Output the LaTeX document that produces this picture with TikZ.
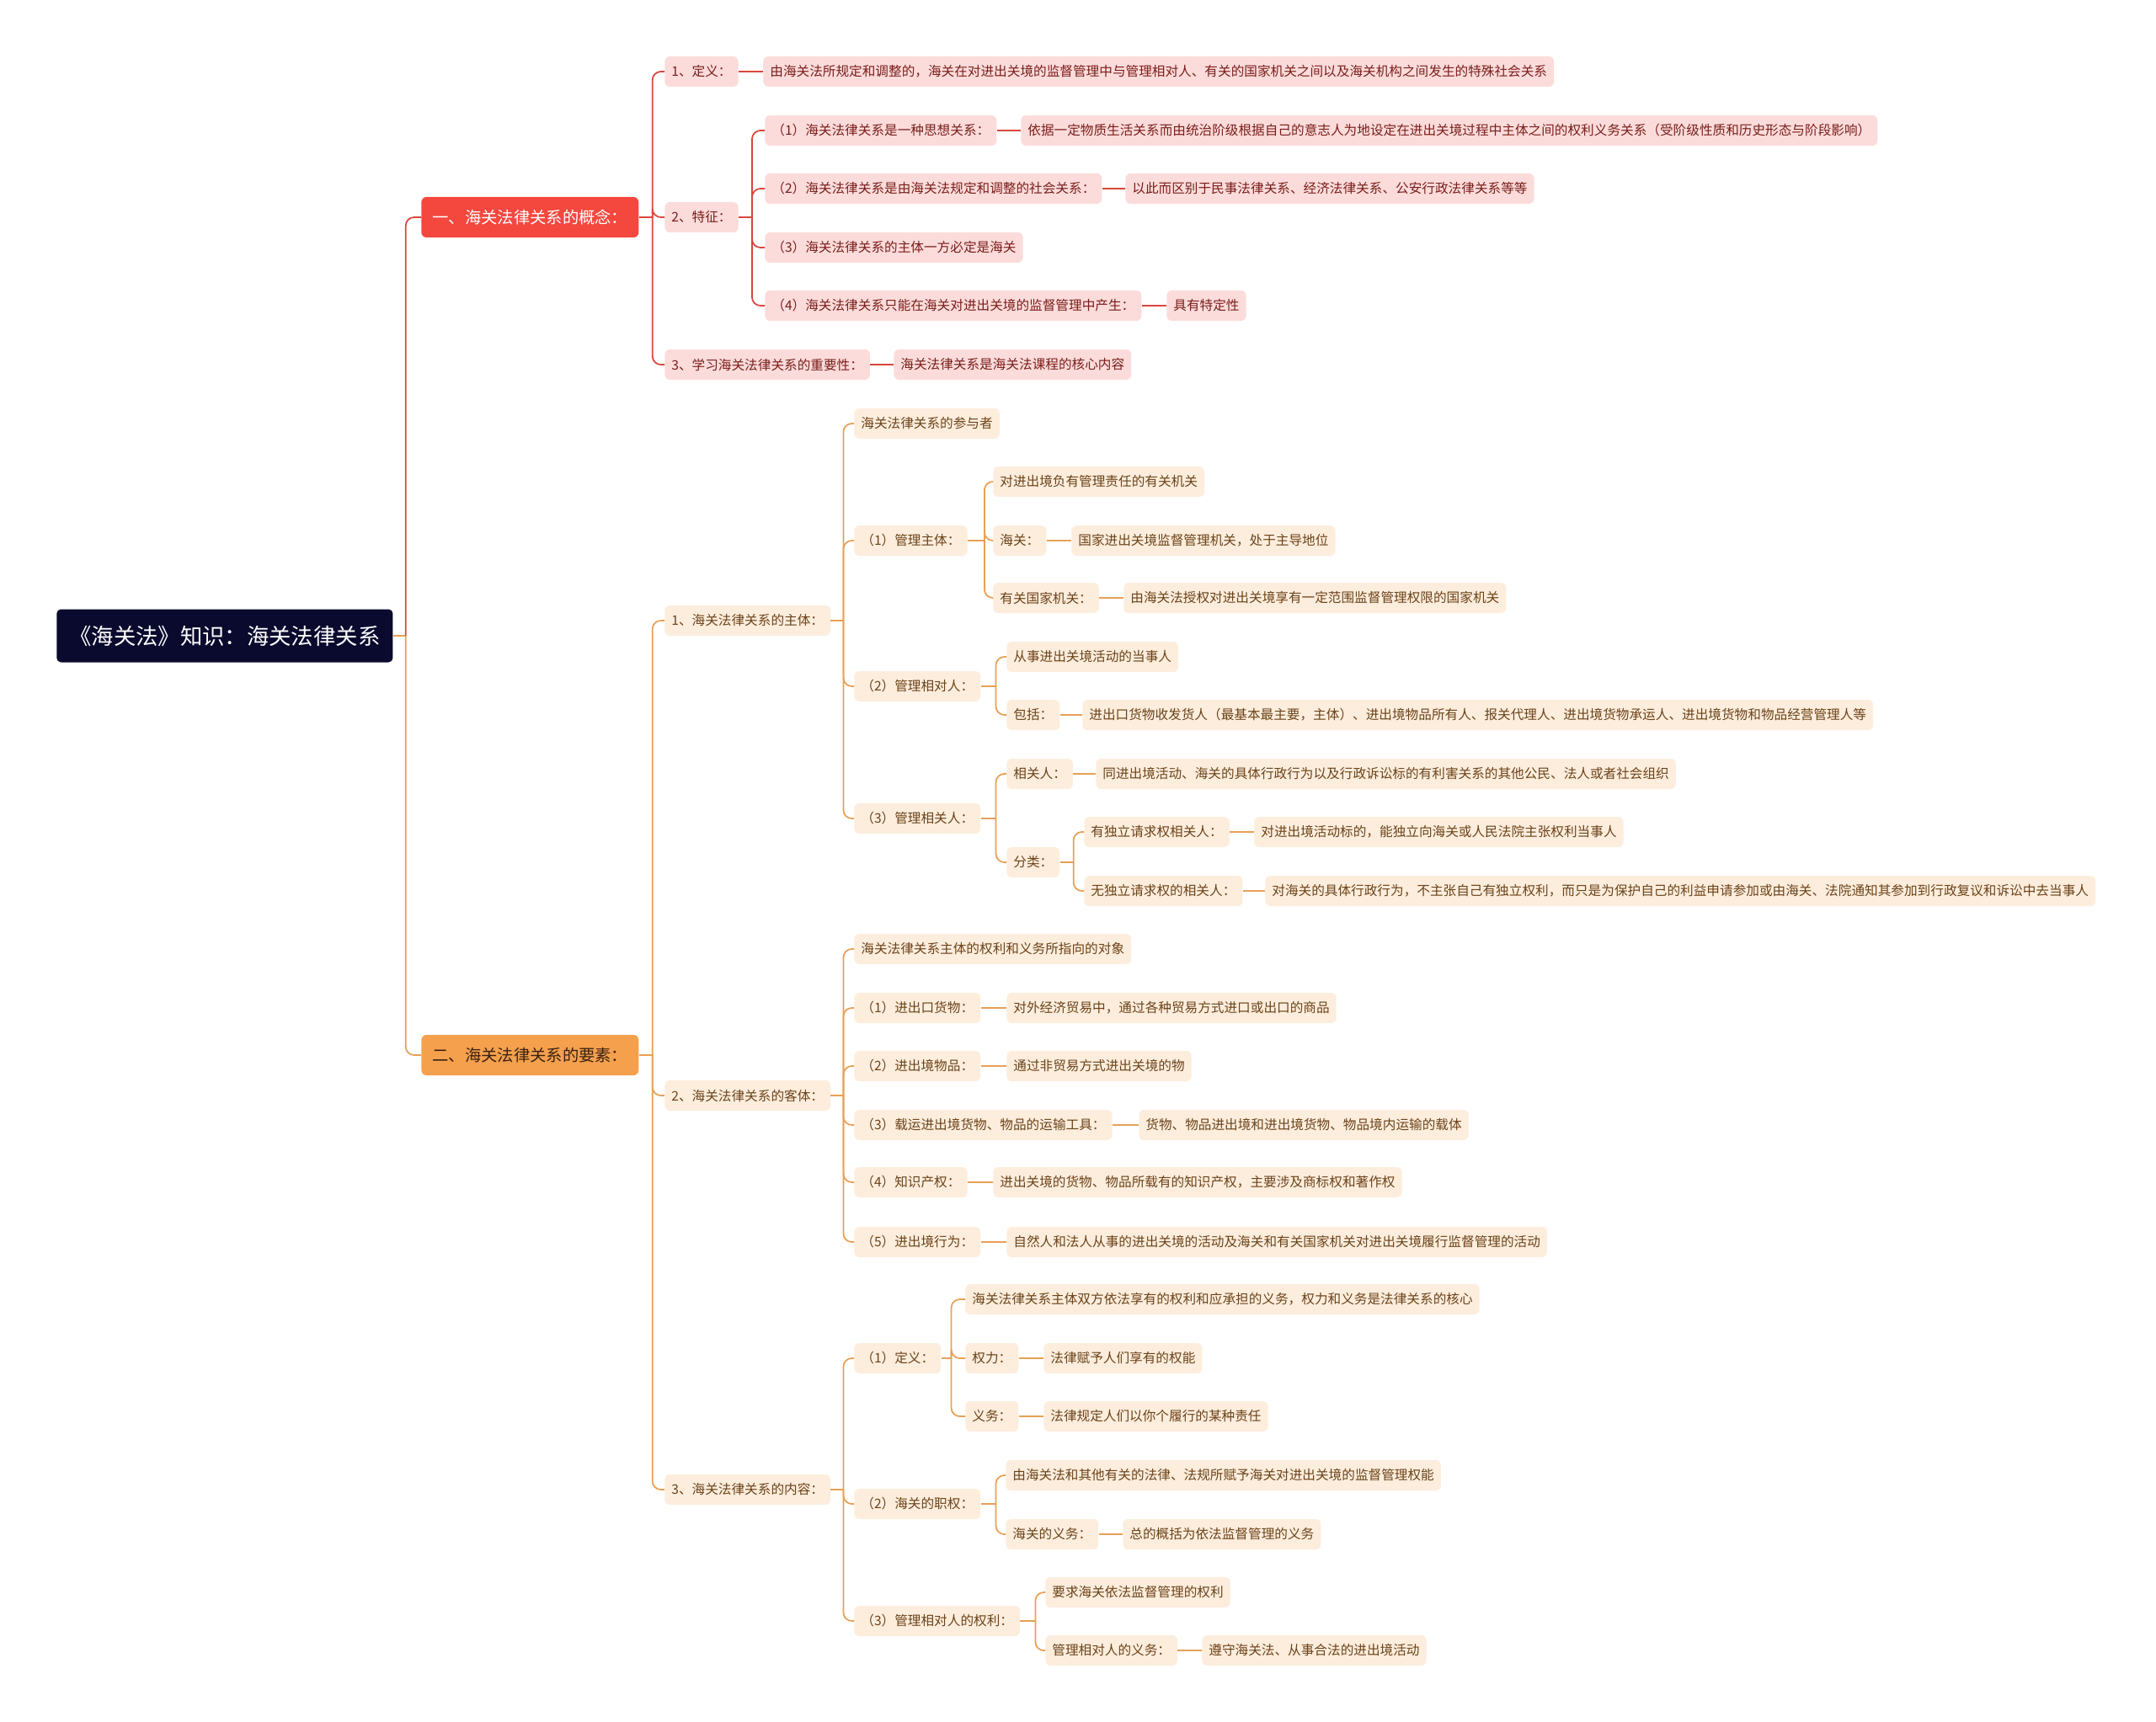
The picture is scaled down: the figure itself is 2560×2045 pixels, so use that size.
\documentclass[tikz,border=0pt]{standalone}
\usepackage{fontspec}
\setmainfont{Noto Sans CJK SC}

\definecolor{rootbg}{HTML}{0A0A2E}
\definecolor{redbg}{HTML}{F4473E}
\definecolor{redln}{HTML}{D9463C}
\definecolor{pinkbg}{HTML}{FBDCDB}
\definecolor{redtxt}{HTML}{7A1E1A}
\definecolor{orgbg}{HTML}{F4A04D}
\definecolor{orgln}{HTML}{E8A056}
\definecolor{orgtxt}{HTML}{3B2210}
\definecolor{creambg}{HTML}{FDEDDD}
\definecolor{browntxt}{HTML}{6B4319}

\begin{document}
\begin{tikzpicture}[x=0.2mm, y=-0.2mm,
    rootbox/.style={anchor=west, fill=rootbg, text=white, rounded corners=1mm,
        minimum height=12.6mm, inner xsep=3mm, font=\fontsize{15pt}{18pt}\selectfont},
    topred/.style={anchor=west, fill=redbg, text=white, rounded corners=1.2mm,
        minimum height=9.6mm, inner xsep=2.6mm, font=\fontsize{11pt}{13pt}\selectfont},
    toporg/.style={topred, fill=orgbg, text=orgtxt},
    pinkbox/.style={anchor=west, fill=pinkbg, text=redtxt, rounded corners=1.2mm,
        minimum height=7.2mm, inner xsep=1.6mm, font=\fontsize{8.9pt}{11pt}\selectfont},
    creambox/.style={pinkbox, fill=creambg, text=browntxt},
    redline/.style={draw=redln, line width=0.35mm},
    orgline/.style={draw=orgln, line width=0.35mm},
    redbranch/.style={redline, rounded corners=2mm},
    orgbranch/.style={orgline, rounded corners=2mm},
    redleaf/.style={draw=redln, line width=0.55mm},
    orgleaf/.style={draw=orgln, line width=0.55mm}]
    \useasboundingbox (0,0) rectangle (2560,2045);

    % Root
    \node[rootbox] (root) at (67,755) {《海关法》知识：海关法律关系};

    % Part one: concept
    \node[topred] (con) at (500,258) {一、海关法律关系的概念：};
    \node[pinkbox] (con1) at (789,85) {1、定义：};
    \node[pinkbox] (con1a) at (906,85) {由海关法所规定和调整的，海关在对进出关境的监督管理中与管理相对人、有关的国家机关之间以及海关机构之间发生的特殊社会关系};
    \node[pinkbox] (con2) at (789,258) {2、特征：};
    \node[pinkbox] (con2a) at (908,155) {（1）海关法律关系是一种思想关系：};
    \node[pinkbox] (con2a1) at (1212,155) {依据一定物质生活关系而由统治阶级根据自己的意志人为地设定在进出关境过程中主体之间的权利义务关系（受阶级性质和历史形态与阶段影响）};
    \node[pinkbox] (con2b) at (908,224) {（2）海关法律关系是由海关法规定和调整的社会关系：};
    \node[pinkbox] (con2b1) at (1336,224) {以此而区别于民事法律关系、经济法律关系、公安行政法律关系等等};
    \node[pinkbox] (con2c) at (908,294) {（3）海关法律关系的主体一方必定是海关};
    \node[pinkbox] (con2d) at (908,363) {（4）海关法律关系只能在海关对进出关境的监督管理中产生：};
    \node[pinkbox] (con2d1) at (1385,363) {具有特定性};
    \node[pinkbox] (con3) at (789,433) {3、学习海关法律关系的重要性：};
    \node[pinkbox] (con3a) at (1061,433) {海关法律关系是海关法课程的核心内容};

    % Part two: elements
    \node[toporg] (ele) at (500,1253) {二、海关法律关系的要素：};

    % subject
    \node[creambox] (e1) at (789,737) {1、海关法律关系的主体：};
    \node[creambox] (e1a) at (1014,503) {海关法律关系的参与者};
    \node[creambox] (e1b) at (1014,642) {（1）管理主体：};
    \node[creambox] (e1b1) at (1179,572) {对进出境负有管理责任的有关机关};
    \node[creambox] (e1b2) at (1179,642) {海关：};
    \node[creambox] (e1b2a) at (1272,642) {国家进出关境监督管理机关，处于主导地位};
    \node[creambox] (e1b3) at (1179,710) {有关国家机关：};
    \node[creambox] (e1b3a) at (1334,710) {由海关法授权对进出关境享有一定范围监督管理权限的国家机关};
    \node[creambox] (e1c) at (1014,815) {（2）管理相对人：};
    \node[creambox] (e1c1) at (1195,780) {从事进出关境活动的当事人};
    \node[creambox] (e1c2) at (1195,849) {包括：};
    \node[creambox] (e1c2a) at (1285,849) {进出口货物收发货人（最基本最主要，主体）、进出境物品所有人、报关代理人、进出境货物承运人、进出境货物和物品经营管理人等};
    \node[creambox] (e1d) at (1014,972) {（3）管理相关人：};
    \node[creambox] (e1d1) at (1195,919) {相关人：};
    \node[creambox] (e1d1a) at (1301,919) {同进出境活动、海关的具体行政行为以及行政诉讼标的有利害关系的其他公民、法人或者社会组织};
    \node[creambox] (e1d2) at (1195,1024) {分类：};
    \node[creambox] (e1d2a) at (1287,988) {有独立请求权相关人：};
    \node[creambox] (e1d2a1) at (1489,988) {对进出境活动标的，能独立向海关或人民法院主张权利当事人};
    \node[creambox] (e1d2b) at (1287,1058) {无独立请求权的相关人：};
    \node[creambox] (e1d2b1) at (1502,1058) {对海关的具体行政行为，不主张自己有独立权利，而只是为保护自己的利益申请参加或由海关、法院通知其参加到行政复议和诉讼中去当事人};

    % object
    \node[creambox] (e2) at (789,1301) {2、海关法律关系的客体：};
    \node[creambox] (e2a) at (1014,1127) {海关法律关系主体的权利和义务所指向的对象};
    \node[creambox] (e2b) at (1014,1197) {（1）进出口货物：};
    \node[creambox] (e2b1) at (1195,1197) {对外经济贸易中，通过各种贸易方式进口或出口的商品};
    \node[creambox] (e2c) at (1014,1266) {（2）进出境物品：};
    \node[creambox] (e2c1) at (1195,1266) {通过非贸易方式进出关境的物};
    \node[creambox] (e2d) at (1014,1336) {（3）载运进出境货物、物品的运输工具：};
    \node[creambox] (e2d1) at (1352,1336) {货物、物品进出境和进出境货物、物品境内运输的载体};
    \node[creambox] (e2e) at (1014,1404) {（4）知识产权：};
    \node[creambox] (e2e1) at (1179,1404) {进出关境的货物、物品所载有的知识产权，主要涉及商标权和著作权};
    \node[creambox] (e2f) at (1014,1475) {（5）进出境行为：};
    \node[creambox] (e2f1) at (1195,1475) {自然人和法人从事的进出关境的活动及海关和有关国家机关对进出关境履行监督管理的活动};

    % content
    \node[creambox] (e3) at (789,1769) {3、海关法律关系的内容：};
    \node[creambox] (e3a) at (1014,1613) {（1）定义：};
    \node[creambox] (e3a1) at (1146,1543) {海关法律关系主体双方依法享有的权利和应承担的义务，权力和义务是法律关系的核心};
    \node[creambox] (e3a2) at (1146,1613) {权力：};
    \node[creambox] (e3a2a) at (1239,1613) {法律赋予人们享有的权能};
    \node[creambox] (e3a3) at (1146,1682) {义务：};
    \node[creambox] (e3a3a) at (1239,1682) {法律规定人们以你个履行的某种责任};
    \node[creambox] (e3b) at (1014,1786) {（2）海关的职权：};
    \node[creambox] (e3b1) at (1194,1752) {由海关法和其他有关的法律、法规所赋予海关对进出关境的监督管理权能};
    \node[creambox] (e3b2) at (1194,1822) {海关的义务：};
    \node[creambox] (e3b2a) at (1333,1822) {总的概括为依法监督管理的义务};
    \node[creambox] (e3c) at (1014,1925) {（3）管理相对人的权利：};
    \node[creambox] (e3c1) at (1241,1891) {要求海关依法监督管理的权利};
    \node[creambox] (e3c2) at (1241,1960) {管理相对人的义务：};
    \node[creambox] (e3c2a) at (1427,1960) {遵守海关法、从事合法的进出境活动};

    % Connectors from the root
    \draw[orgline] (root.east) -- ++(15,0) coordinate (rootj);
    \draw[redbranch] (rootj) |- (con.west);
    \draw[orgbranch] (rootj) |- (ele.west);

    % Connectors in part one
    \draw[redline] (con.east) -- ++(16,0) coordinate (conj);
    \draw[redbranch] (conj) |- (con1.west);
    \draw[redbranch] (conj) |- (con2.west);
    \draw[redbranch] (conj) |- (con3.west);
    \draw[redleaf] (con1.east) -- (con1a.west);
    \draw[redline] (con2.east) -- ++(16,0) coordinate (con2j);
    \draw[redbranch] (con2j) |- (con2a.west);
    \draw[redbranch] (con2j) |- (con2b.west);
    \draw[redbranch] (con2j) |- (con2c.west);
    \draw[redbranch] (con2j) |- (con2d.west);
    \draw[redleaf] (con2a.east) -- (con2a1.west);
    \draw[redleaf] (con2b.east) -- (con2b1.west);
    \draw[redleaf] (con2d.east) -- (con2d1.west);
    \draw[redleaf] (con3.east) -- (con3a.west);

    % Connectors in part two
    \draw[orgline] (ele.east) -- ++(16,0) coordinate (elej);
    \draw[orgbranch] (elej) |- (e1.west);
    \draw[orgbranch] (elej) |- (e2.west);
    \draw[orgbranch] (elej) |- (e3.west);

    \draw[orgline] (e1.east) -- ++(15,0) coordinate (e1j);
    \draw[orgbranch] (e1j) |- (e1a.west);
    \draw[orgbranch] (e1j) |- (e1b.west);
    \draw[orgbranch] (e1j) |- (e1c.west);
    \draw[orgbranch] (e1j) |- (e1d.west);
    \draw[orgline] (e1b.east) -- ++(20,0) coordinate (e1bj);
    \draw[orgbranch] (e1bj) |- (e1b1.west);
    \draw[orgbranch] (e1bj) |- (e1b2.west);
    \draw[orgbranch] (e1bj) |- (e1b3.west);
    \draw[orgleaf] (e1b2.east) -- (e1b2a.west);
    \draw[orgleaf] (e1b3.east) -- (e1b3a.west);
    \draw[orgline] (e1c.east) -- ++(18,0) coordinate (e1cj);
    \draw[orgbranch] (e1cj) |- (e1c1.west);
    \draw[orgbranch] (e1cj) |- (e1c2.west);
    \draw[orgleaf] (e1c2.east) -- (e1c2a.west);
    \draw[orgline] (e1d.east) -- ++(18,0) coordinate (e1dj);
    \draw[orgbranch] (e1dj) |- (e1d1.west);
    \draw[orgbranch] (e1dj) |- (e1d2.west);
    \draw[orgleaf] (e1d1.east) -- (e1d1a.west);
    \draw[orgline] (e1d2.east) -- ++(16,0) coordinate (e1d2j);
    \draw[orgbranch] (e1d2j) |- (e1d2a.west);
    \draw[orgbranch] (e1d2j) |- (e1d2b.west);
    \draw[orgleaf] (e1d2a.east) -- (e1d2a1.west);
    \draw[orgleaf] (e1d2b.east) -- (e1d2b1.west);

    \draw[orgline] (e2.east) -- ++(15,0) coordinate (e2j);
    \draw[orgbranch] (e2j) |- (e2a.west);
    \draw[orgbranch] (e2j) |- (e2b.west);
    \draw[orgbranch] (e2j) |- (e2c.west);
    \draw[orgbranch] (e2j) |- (e2d.west);
    \draw[orgbranch] (e2j) |- (e2e.west);
    \draw[orgbranch] (e2j) |- (e2f.west);
    \draw[orgleaf] (e2b.east) -- (e2b1.west);
    \draw[orgleaf] (e2c.east) -- (e2c1.west);
    \draw[orgleaf] (e2d.east) -- (e2d1.west);
    \draw[orgleaf] (e2e.east) -- (e2e1.west);
    \draw[orgleaf] (e2f.east) -- (e2f1.west);

    \draw[orgline] (e3.east) -- ++(15,0) coordinate (e3j);
    \draw[orgbranch] (e3j) |- (e3a.west);
    \draw[orgbranch] (e3j) |- (e3b.west);
    \draw[orgbranch] (e3j) |- (e3c.west);
    \draw[orgline] (e3a.east) -- ++(12,0) coordinate (e3aj);
    \draw[orgbranch] (e3aj) |- (e3a1.west);
    \draw[orgbranch] (e3aj) |- (e3a2.west);
    \draw[orgbranch] (e3aj) |- (e3a3.west);
    \draw[orgleaf] (e3a2.east) -- (e3a2a.west);
    \draw[orgleaf] (e3a3.east) -- (e3a3a.west);
    \draw[orgline] (e3b.east) -- ++(18,0) coordinate (e3bj);
    \draw[orgbranch] (e3bj) |- (e3b1.west);
    \draw[orgbranch] (e3bj) |- (e3b2.west);
    \draw[orgleaf] (e3b2.east) -- (e3b2a.west);
    \draw[orgline] (e3c.east) -- ++(18,0) coordinate (e3cj);
    \draw[orgbranch] (e3cj) |- (e3c1.west);
    \draw[orgbranch] (e3cj) |- (e3c2.west);
    \draw[orgleaf] (e3c2.east) -- (e3c2a.west);
\end{tikzpicture}
\end{document}
